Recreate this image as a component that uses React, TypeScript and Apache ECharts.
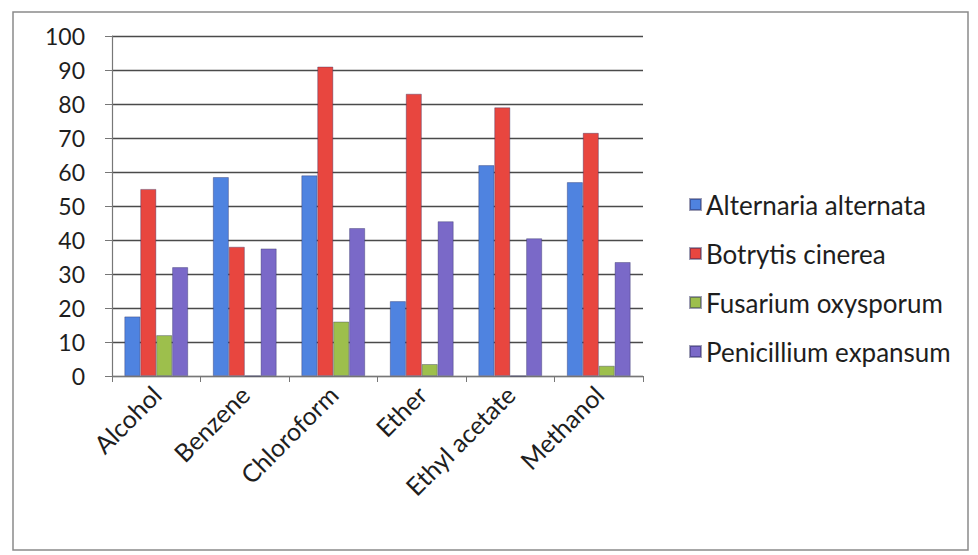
import React, { useEffect, useRef } from "react";
import * as echarts from "echarts";

const categories = ["Alcohol", "Benzene", "Chloroform", "Ether", "Ethyl acetate", "Methanol"];
const seriesNames = ["Alternaria alternata", "Botrytis cinerea", "Fusarium oxysporum", "Penicillium expansum"];
const alternaria = [17.5, 58.5, 59, 22, 62, 57];
const botrytis = [55, 38, 91, 83, 79, 71.5];
const fusarium = [12, 0, 16, 3.5, 0, 3];
const penicillium = [32, 37.5, 43.5, 45.5, 40.5, 33.5];
const yTicks = [0, 10, 20, 30, 40, 50, 60, 70, 80, 90, 100];

const colors = ["#4f83e0", "#e8463f", "#9dbf4c", "#7a69c8"];

export default function App() {
  const ref = useRef<HTMLDivElement>(null);
  useEffect(() => {
    document.body.style.margin = "0";
    const chart = echarts.init(ref.current!, null, { renderer: "svg" });
    const values = [alternaria, botrytis, fusarium, penicillium];
    const font = "Lato, 'Open Sans', sans-serif";
    chart.setOption({
      animation: false,
      backgroundColor: "#ffffff",
      graphic: [
        {
          type: "rect",
          shape: { x: 13, y: 12, width: 955, height: 538 },
          style: { fill: "none", stroke: "#8a8a8a", lineWidth: 1.5 },
          silent: true,
          z: -1,
        },
      ],
      grid: { left: 112, right: 335, top: 36, bottom: 179 },
      legend: {
        orient: "vertical",
        left: 684,
        top: 186,
        itemGap: 22,
        itemWidth: 11,
        itemHeight: 11,
        icon: "rect",
        data: seriesNames,
        textStyle: { fontSize: 26, lineHeight: 27, color: "#1e1e1e", fontFamily: font },
      },
      xAxis: {
        type: "category",
        data: categories,
        boundaryGap: true,
        axisLine: { lineStyle: { color: "#777", width: 1.2 } },
        axisTick: { show: true, length: 6, lineStyle: { color: "#777" } },
        axisLabel: {
          rotate: 45,
          fontSize: 25,
          color: "#1e1e1e",
          fontFamily: font,
          margin: 14,
          interval: 0,
        },
      },
      yAxis: {
        type: "value",
        min: 0,
        max: 100,
        interval: 10,
        axisLine: { show: true, lineStyle: { color: "#777", width: 1.2 } },
        axisTick: { show: true, length: 7, lineStyle: { color: "#777" } },
        splitLine: { lineStyle: { color: "#4a4a4a", width: 1.3 } },
        axisLabel: {
          fontSize: 23,
          color: "#1e1e1e",
          fontFamily: font,
          margin: 27,
          formatter: (v: number) => (yTicks.includes(v) ? String(v) : ""),
        },
      },
      series: seriesNames.map((name, i) => ({
        name,
        type: "bar",
        data: values[i],
        barGap: "0%",
        barCategoryGap: "28%",
        itemStyle: { color: colors[i], borderColor: "rgba(40,40,90,0.45)", borderWidth: 0.8 },
      })),
    });
    return () => chart.dispose();
  }, []);
  return <div ref={ref} style={{ width: 978, height: 555 }} />;
}
